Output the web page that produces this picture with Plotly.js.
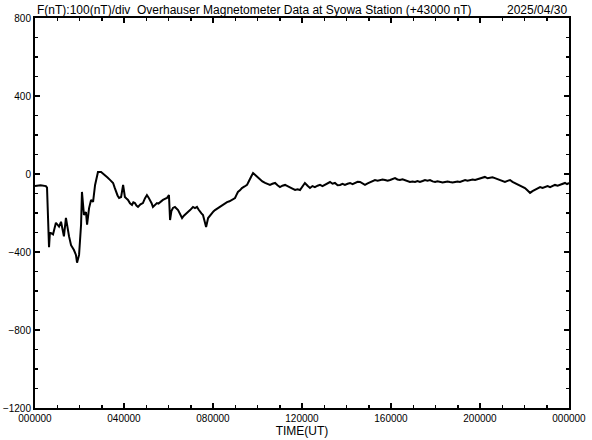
<!DOCTYPE html>
<html>
<head>
<meta charset="utf-8">
<script src="https://cdn.plot.ly/plotly-3.0.1.min.js"></script>
<style>html,body{margin:0;padding:0;background:#fff;}#chart{width:592px;height:440px;}</style>
</head>
<body>
<div id="chart"></div>
<script>
// Time in hours UT (0-24), F deviation in nT from 43000 nT
const timeHours = [
  0.00, 0.25, 0.49, 0.54, 0.63, 0.67, 0.81, 0.94, 1.08, 1.17, 1.30, 1.39, 1.53, 1.62, 1.75, 1.84, 1.89, 1.98,
  2.07, 2.11, 2.20, 2.29, 2.34, 2.43, 2.52, 2.61, 2.70, 2.83, 2.97, 3.06, 3.15, 3.26, 3.37, 3.44, 3.51, 3.58, 3.64,
  3.71, 3.78, 3.87, 3.96, 4.04, 4.11, 4.18, 4.27, 4.36, 4.42, 4.49, 4.56, 4.63, 4.74, 4.85, 4.94, 5.03, 5.10,
  5.17, 5.24, 5.30, 5.39, 5.48, 5.55, 5.62, 5.68, 5.75, 5.84, 5.93, 6.02, 6.07, 6.13, 6.20, 6.29, 6.36, 6.43,
  6.52, 6.61, 6.68, 6.74, 6.86, 6.97, 7.03, 7.10, 7.19, 7.28, 7.35, 7.42, 7.48, 7.55, 7.62, 7.69, 7.78, 7.87,
  7.96, 8.02, 8.09, 8.15, 8.22, 8.31, 8.40, 8.51, 8.63, 8.74, 8.85, 8.92, 8.99, 9.05, 9.12, 9.21, 9.30, 9.42,
  9.53, 9.60, 9.66, 9.73, 9.80, 9.89, 9.96, 10.02, 10.11, 10.22, 10.34, 10.45,
  10.56, 10.67, 10.79, 10.90, 11.01, 11.12, 11.24, 11.35, 11.46, 11.57, 11.69, 11.80, 11.91, 12.02, 12.13,
  12.25, 12.36, 12.47, 12.58, 12.70, 12.81, 12.92, 13.03, 13.15, 13.26, 13.37, 13.48, 13.60, 13.71, 13.82,
  13.93, 14.05, 14.16, 14.27, 14.38, 14.50, 14.61, 14.72, 14.83, 14.95, 15.06, 15.17, 15.28, 15.40, 15.51,
  15.62, 15.73, 15.85, 15.96, 16.07, 16.18, 16.29, 16.40, 16.52, 16.63, 16.74, 16.85, 16.97, 17.08, 17.19,
  17.30, 17.42, 17.53, 17.64, 17.75, 17.87, 17.98, 18.09, 18.20, 18.32, 18.43, 18.54, 18.65, 18.77, 18.88,
  18.99, 19.10, 19.22, 19.33, 19.44, 19.55, 19.67, 19.78, 19.89, 20.00, 20.11, 20.22, 20.34, 20.45, 20.56,
  20.67, 20.79, 20.90, 21.01, 21.12, 21.24, 21.35, 21.46, 21.57, 21.69, 21.80, 21.91, 22.02, 22.14, 22.25,
  22.36, 22.47, 22.59, 22.70, 22.81, 22.92, 23.04, 23.15, 23.26, 23.37, 23.49, 23.60, 23.71, 23.82, 23.91, 24.00
];
const fValues = [
  -62, -58, -62, -70, -375, -300, -310, -250, -270, -245, -320, -225, -320, -365, -390, -415, -455, -415,
  -260, -92, -210, -195, -260, -175, -133, -143, -56, 10, 10, 2, -5, -18, -30, -38, -46, -70, -92,
  -110, -123, -118, -56, -118, -126, -133, -150, -159, -145, -149, -162, -169, -156, -149, -125, -108, -120,
  -133, -150, -169, -158, -149, -152, -144, -138, -133, -128, -123, -108, -236, -190, -174, -169, -178, -185,
  -205, -226, -215, -210, -196, -185, -176, -169, -175, -169, -182, -195, -202, -210, -245, -272, -226, -212,
  -200, -192, -185, -180, -174, -168, -159, -150, -144, -140, -133, -128, -123, -108, -92, -84, -72, -64,
  -56, -40, -21, -10, 5, -5, -12, -21, -31, -38, -46, -52,
  -56, -50, -46, -58, -67, -60, -56, -62, -67, -75, -82, -78, -82, -64, -46,
  -60, -72, -62, -67, -60, -56, -62, -56, -48, -41, -50, -46, -58, -56, -50,
  -56, -50, -46, -52, -46, -40, -41, -50, -56, -48, -41, -36, -31, -34, -31,
  -28, -31, -35, -31, -25, -21, -28, -31, -27, -31, -36, -41, -38, -41, -36,
  -41, -36, -31, -34, -31, -38, -41, -37, -41, -44, -41, -38, -41, -44, -41,
  -38, -41, -36, -31, -35, -31, -28, -31, -26, -21, -18, -15, -22, -21, -17,
  -21, -27, -31, -37, -41, -35, -31, -40, -46, -50, -56, -62, -72, -85, -97,
  -88, -82, -74, -67, -72, -67, -62, -67, -60, -56, -60, -56, -50, -46, -52, -46
];
const xTickVals = [0, 4, 8, 12, 16, 20, 24];
const xTickText = ['000000', '040000', '080000', '120000', '160000', '200000', '000000'];
const yTickVals = [-1200, -800, -400, 0, 400, 800];

const titleMain = 'F(nT):100(nT)/div\u00a0\u00a0Overhauser Magnetometer Data at Syowa Station (+43000 nT)';
const titleDate = '2025/04/30';

const fontFam = 'Liberation Sans, Arial, sans-serif';

Plotly.newPlot('chart', [{
  x: timeHours,
  y: fValues,
  type: 'scatter',
  mode: 'lines',
  line: {color: '#000', width: 2},
  hoverinfo: 'skip'
}], {
  width: 592, height: 440,
  margin: {l: 35, r: 23, t: 18, b: 32, pad: 0},
  paper_bgcolor: '#fff', plot_bgcolor: '#fff',
  showlegend: false,
  font: {family: fontFam, color: '#000', size: 11},
  xaxis: {
    range: [0, 24],
    tickvals: xTickVals, ticktext: xTickText,
    ticks: 'inside', ticklen: 5, tickwidth: 1.5, tickcolor: '#000',
    minor: {dtick: 1, tick0: 0, ticks: 'inside', ticklen: 3, tickwidth: 1.5, tickcolor: '#000', showgrid: false},
    showline: true, linecolor: '#000', linewidth: 2, mirror: 'ticks',
    showgrid: false, zeroline: false,
    tickfont: {size: 10, family: fontFam},
    title: {text: 'TIME(UT)', font: {size: 12, family: fontFam}, standoff: 2}
  },
  yaxis: {
    range: [-1200, 800],
    tickvals: yTickVals,
    ticks: 'inside', ticklen: 5, tickwidth: 1.5, tickcolor: '#000',
    minor: {dtick: 100, tick0: 0, ticks: 'inside', ticklen: 3, tickwidth: 1.5, tickcolor: '#000', showgrid: false},
    showline: true, linecolor: '#000', linewidth: 2, mirror: 'ticks',
    showgrid: false, zeroline: false,
    tickfont: {size: 10, family: fontFam},
    ticklabelstandoff: 0
  },
  annotations: [
    {text: titleMain, xref: 'paper', yref: 'paper', x: 0, y: 1, xanchor: 'left', yanchor: 'bottom',
     showarrow: false, font: {size: 12, family: fontFam}, yshift: -1},
    {text: titleDate, xref: 'paper', yref: 'paper', x: 1, y: 1, xanchor: 'right', yanchor: 'bottom',
     showarrow: false, font: {size: 12, family: fontFam}, yshift: -1}
  ]
}, {displayModeBar: false, staticPlot: true});
</script>
</body>
</html>
